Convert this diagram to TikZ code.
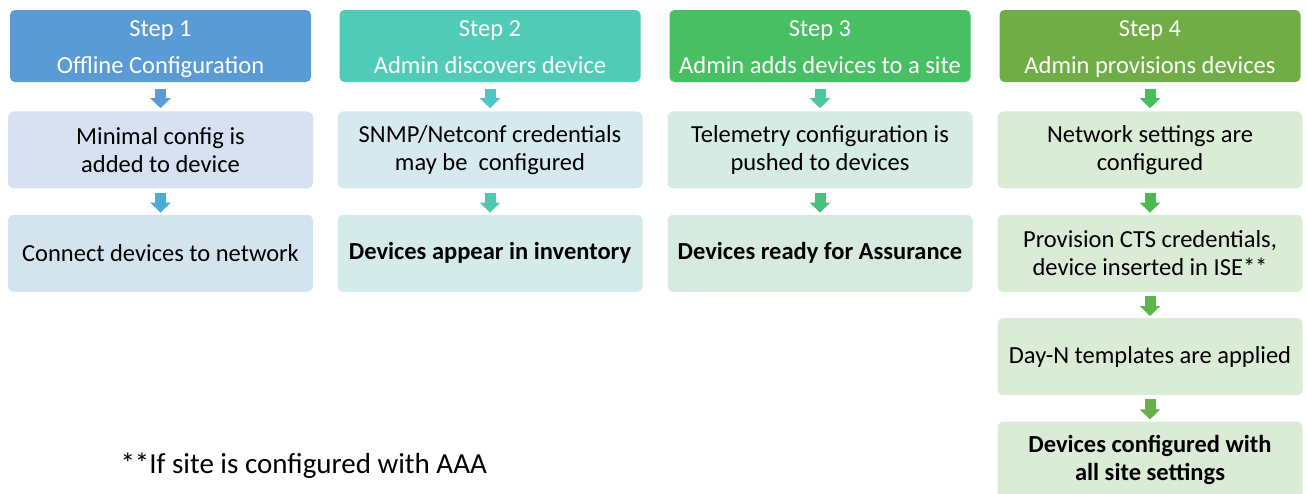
\documentclass[tikz,border=0pt]{standalone}
\usepackage{fontspec}
\setmainfont{Carlito}
\usetikzlibrary{positioning, arrows.meta}
\definecolor{hdrA}{HTML}{5B9BD5}
\definecolor{hdrB}{HTML}{50CBB6}
\definecolor{hdrC}{HTML}{48BF62}
\definecolor{hdrD}{HTML}{70AD47}
\definecolor{boxA}{HTML}{D7E1F1}
\definecolor{boxAA}{HTML}{D4E4EF}
\definecolor{boxB}{HTML}{D6E9EE}
\definecolor{boxBB}{HTML}{D5EBEA}
\definecolor{boxC}{HTML}{D5EBE4}
\definecolor{boxCC}{HTML}{D6EAE0}
\definecolor{boxD}{HTML}{DAEBD6}
\definecolor{arrA}{HTML}{5B9BD5}
\definecolor{arrAA}{HTML}{4BACD6}
\definecolor{arrB}{HTML}{4FC6C6}
\definecolor{arrBB}{HTML}{4FC8B0}
\definecolor{arrC}{HTML}{4CC8A0}
\definecolor{arrCC}{HTML}{48C07A}
\definecolor{arrD}{HTML}{48BF5C}
\definecolor{arrDD}{HTML}{4CB950}
\definecolor{arrDDD}{HTML}{5CB548}
\definecolor{arrDDDD}{HTML}{68B04A}
\newcommand{\hdrtop}{\rule{0pt}{24pt}}
\newcommand{\hdrend}{\rule[-7pt]{0pt}{7pt}}
\tikzset{
    Header/.style = {
        fill=#1, text=white, rounded corners=5pt,
        minimum width=301pt, minimum height=72pt, inner sep=0pt,
        align=center, font=\fontsize{24.5}{37}\selectfont
    },
    Task/.style = {
        fill=#1, rounded corners=6pt,
        minimum width=305pt, minimum height=77pt, inner sep=0pt,
        align=center, font=\fontsize{24.5}{28}\selectfont
    },
    Flow/.style = {
        draw=#1, line width=11pt,
        -{Triangle[length=10pt, width=20pt]},
        shorten <= 4pt, shorten >= 2pt
    },
    FlowTop/.style = {Flow=#1, shorten <= 7pt, shorten >= 3pt}
}

\begin{document}
\begin{tikzpicture}[x=1pt, y=-1pt, node distance=26pt]
    \useasboundingbox (0,0) rectangle (1307,493);
    % step 1
    \node[Header=hdrA] (H1) at (160.5,46) {\hdrtop Step 1\\Offline Configuration\hdrend};
    \node[Task=boxA, below=29pt of H1] (T11) {Minimal config is\\added to device};
    \node[Task=boxAA, below=of T11] (T12) {Connect devices to network};
    % step 2
    \node[Header=hdrB] (H2) at (490,46) {\hdrtop Step 2\\Admin discovers device\hdrend};
    \node[Task=boxB, below=29pt of H2] (T21) {SNMP/Netconf credentials\\may be~ configured};
    \node[Task=boxBB, below=of T21] (T22) {\bfseries Devices appear in inventory};
    % step 3
    \node[Header=hdrC] (H3) at (820,46) {\hdrtop Step 3\\Admin adds devices to a site\hdrend};
    \node[Task=boxC, below=29pt of H3] (T31) {Telemetry configuration is\\pushed to devices};
    \node[Task=boxCC, below=of T31] (T32) {\bfseries Devices ready for Assurance};
    % step 4
    \node[Header=hdrD] (H4) at (1150,46) {\hdrtop Step 4\\Admin provisions devices\hdrend};
    \node[Task=boxD, below=29pt of H4] (T41) {Network settings are\\configured};
    \node[Task=boxD, below=of T41] (T42) {Provision CTS credentials,\\device inserted in ISE**};
    \node[Task=boxD, below=of T42] (T43) {Day-N templates are applied};
    \node[Task=boxD, below=of T43] (T44) {\bfseries Devices configured with\\\bfseries all site settings};
    % footnote
    \node[anchor=west, font=\fontsize{29}{32}\selectfont] (Note) at (117,466) {**If site is configured with AAA};

    \draw [FlowTop=arrA] (H1) to (T11);
    \draw [Flow=arrAA] (T11) to (T12);
    \draw [FlowTop=arrB] (H2) to (T21);
    \draw [Flow=arrBB] (T21) to (T22);
    \draw [FlowTop=arrC] (H3) to (T31);
    \draw [Flow=arrCC] (T31) to (T32);
    \draw [FlowTop=arrD] (H4) to (T41);
    \draw [Flow=arrDD] (T41) to (T42);
    \draw [Flow=arrDDD] (T42) to (T43);
    \draw [Flow=arrDDDD] (T43) to (T44);
\end{tikzpicture}
\end{document}
